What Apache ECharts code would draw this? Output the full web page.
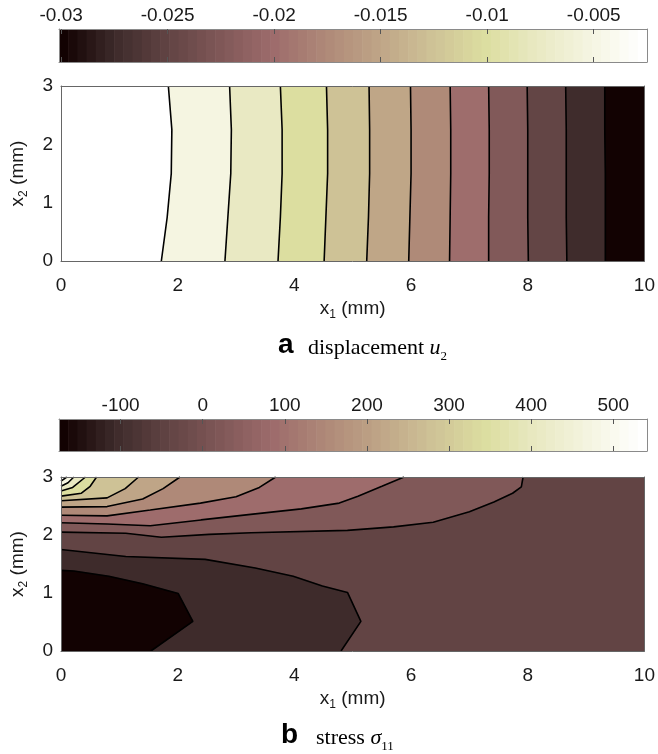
<!DOCTYPE html>
<html>
<head>
<meta charset="utf-8">
<script src="https://cdn.jsdelivr.net/npm/echarts@6/dist/echarts.min.js"></script>
<style>html,body{margin:0;padding:0;background:#fff}#c{width:658px;height:754px}</style>
</head>
<body>
<div id="c"></div>
<script>
// ================= DATA =================
const xTicks = [0, 2, 4, 6, 8, 10];
const yTicks = [0, 1, 2, 3];
const X_RANGE = [0, 10];
const Y_RANGE = [0, 3];

// (a) displacement u2
const aRange = [-0.0301, -0.0025];
const aTicks = [-0.03, -0.025, -0.02, -0.015, -0.01, -0.005];
const aTickLabels = ['-0.03', '-0.025', '-0.02', '-0.015', '-0.01', '-0.005'];
const aLevels = [-0.0275, -0.025, -0.0225, -0.02, -0.0175, -0.015, -0.0125, -0.01, -0.0075, -0.005, -0.0025];
// contour lines [x1, x2], one per level (lowest level first)
const aLines = [
  [[9.33,0],[9.33,0.75],[9.33,1.5],[9.32,2.25],[9.32,3]],
  [[8.67,0],[8.66,0.75],[8.66,1.5],[8.66,2.25],[8.65,3]],
  [[8.01,0],[8.00,0.75],[8.00,1.5],[8.00,2.25],[7.99,3]],
  [[7.33,0],[7.33,0.75],[7.34,1.5],[7.34,2.25],[7.33,3]],
  [[6.66,0],[6.67,0.75],[6.68,1.5],[6.68,2.25],[6.67,3]],
  [[5.96,0],[5.98,0.75],[6.00,1.5],[6.00,2.25],[5.99,3]],
  [[5.24,0],[5.27,0.75],[5.29,1.5],[5.29,2.25],[5.28,3]],
  [[4.51,0],[4.54,0.75],[4.57,1.5],[4.57,2.25],[4.55,3]],
  [[3.72,0],[3.76,0.75],[3.79,1.5],[3.79,2.25],[3.76,3]],
  [[2.81,0],[2.86,0.75],[2.91,1.5],[2.92,2.25],[2.89,3]],
  [[1.72,0],[1.82,0.75],[1.89,1.5],[1.90,2.25],[1.84,3]]
];

// (b) stress sigma11
const bRange = [-175, 541];
const bTicks = [-100, 0, 100, 200, 300, 400, 500];
const bTickLabels = ['-100', '0', '100', '200', '300', '400', '500'];
const bLevels = [-110, -45, 20, 85, 150, 215, 280, 345, 410, 475, 540];
const bLines = [
  [[0,1.39],[0.22,1.38],[0.82,1.29],[1.40,1.16],[2.01,0.99],[2.26,0.51],[1.54,0]],
  [[0,1.75],[1.11,1.63],[2.47,1.58],[3.33,1.43],[3.98,1.29],[4.48,1.12],[4.91,1.01],[5.14,0.51],[4.80,0]],
  [[0,2.05],[1.11,2.03],[1.72,1.96],[2.54,2.01],[3.26,2.04],[4.91,2.08],[5.70,2.14],[6.38,2.22],[7.00,2.40],[7.42,2.57],[7.74,2.72],[7.89,2.83],[7.92,3]],
  [[0,2.21],[0.79,2.19],[1.53,2.16],[2.40,2.26],[3.29,2.36],[4.12,2.45],[4.77,2.55],[5.09,2.67],[5.50,2.84],[5.88,3]],
  [[0,2.34],[0.79,2.33],[1.53,2.43],[2.39,2.55],[3.00,2.66],[3.40,2.82],[3.68,3]],
  [[0,2.48],[0.79,2.49],[1.40,2.62],[1.75,2.80],[2.04,3]],
  [[0,2.59],[0.79,2.64],[1.10,2.80],[1.33,3]],
  [[0,2.67],[0.35,2.72],[0.50,2.84],[0.61,3]],
  [[0,2.76],[0.20,2.82],[0.42,3]],
  [[0,2.84],[0.12,2.90],[0.22,3]],
  [[0,2.93],[0.10,3]]
];

// ================= STYLE =================
const FONT = "'Liberation Sans', Arial, Helvetica, sans-serif";
const SERIF = "'Liberation Serif', 'Times New Roman', serif";
const FS = 19;
const cmapStops = [[18,2,2],[62,43,43],[98,68,68],[128,88,88],[158,108,108],[175,137,120],[191,165,135],[206,194,150],[220,222,160],[233,233,195],[245,245,225],[255,255,255]];
function cmap(t) {
  t = Math.max(0, Math.min(1, t));
  const n = cmapStops.length - 1;
  const f = t * n;
  const i = Math.min(n - 1, Math.floor(f));
  const u = f - i;
  const a = cmapStops[i], b = cmapStops[i + 1];
  const c = a.map((v, j) => Math.round(v + (b[j] - v) * u));
  return 'rgb(' + c[0] + ',' + c[1] + ',' + c[2] + ')';
}

// ---- region building (painter's algorithm) ----
function perim(p) {
  const W = X_RANGE[1] - X_RANGE[0], H = Y_RANGE[1] - Y_RANGE[0], e = 1e-6;
  const x = p[0], y = p[1];
  if (Math.abs(y - Y_RANGE[1]) < e) return x - X_RANGE[0];
  if (Math.abs(x - X_RANGE[1]) < e) return W + (Y_RANGE[1] - y);
  if (Math.abs(y - Y_RANGE[0]) < e) return W + H + (X_RANGE[1] - x);
  return 2 * W + H + (y - Y_RANGE[0]);
}
function closeRegion(line) {
  const W = X_RANGE[1] - X_RANGE[0], H = Y_RANGE[1] - Y_RANGE[0], P = 2 * (W + H);
  const corners = [
    [W, [X_RANGE[1], Y_RANGE[1]]],
    [W + H, [X_RANGE[1], Y_RANGE[0]]],
    [2 * W + H, [X_RANGE[0], Y_RANGE[0]]],
    [P, [X_RANGE[0], Y_RANGE[1]]]
  ];
  const sEnd = perim(line[line.length - 1]), sStart = perim(line[0]);
  let d = sStart - sEnd; if (d <= 0) d += P;
  const pts = line.slice();
  corners.map(([s, pt]) => [(((s - sEnd) % P) + P) % P, pt])
    .filter(([ds]) => ds > 1e-9 && ds < d - 1e-9)
    .sort((a, b) => a[0] - b[0])
    .forEach(c => pts.push(c[1]));
  return pts;
}
function buildRegions(lines, levels, vmin) {
  const rect = [[X_RANGE[0], Y_RANGE[0]], [X_RANGE[1], Y_RANGE[0]], [X_RANGE[1], Y_RANGE[1]], [X_RANGE[0], Y_RANGE[1]]];
  const regs = [{ pts: rect, value: levels[levels.length - 1] }];
  for (let k = lines.length - 1; k >= 0; k--) {
    regs.push({ pts: closeRegion(lines[k]), value: k > 0 ? levels[k - 1] : vmin });
  }
  return regs;
}
const regionsA = buildRegions(aLines, aLevels, aRange[0]);
const regionsB = buildRegions(bLines, bLevels, bRange[0]);

function fillSeries(regs, range, axisIdx) {
  return {
    type: 'custom', xAxisIndex: axisIdx, yAxisIndex: axisIdx, z: 1, silent: true, clip: true,
    data: regs.map(r => r.pts[0]),
    renderItem: function (params, api) {
      const r = regs[params.dataIndex];
      const col = cmap((r.value - range[0]) / (range[1] - range[0]));
      return { type: 'polygon', shape: { points: r.pts.map(p => api.coord(p)) }, style: { fill: col, stroke: col, lineWidth: 0.3 } };
    }
  };
}
function lineSeries(lines, axisIdx) {
  return lines.map(l => ({
    type: 'line', xAxisIndex: axisIdx, yAxisIndex: axisIdx, data: l, symbol: 'none', silent: true, z: 3,
    lineStyle: { color: '#000', width: 1.6 }, clip: true
  }));
}
const NCELL = 64;
function colorbarSeries(range, axisIdx) {
  const step = (range[1] - range[0]) / NCELL;
  const cells = [];
  for (let i = 0; i < NCELL; i++) cells.push([range[0] + (i + 0.5) * step, 0.5]);
  return {
    type: 'custom', xAxisIndex: axisIdx, yAxisIndex: axisIdx, z: 1, silent: true,
    data: cells,
    renderItem: function (params, api) {
      const i = params.dataIndex;
      const p0 = api.coord([range[0] + i * step, 0]);
      const p1 = api.coord([range[0] + (i + 1) * step, 1]);
      return { type: 'rect', shape: { x: p0[0], y: p1[1], width: p1[0] - p0[0] + 0.6, height: p0[1] - p1[1] }, style: { fill: cmap(i / (NCELL - 1)) } };
    }
  };
}

function labelFmt(ticks, labels) {
  return v => { let bi = 0; ticks.forEach((t, i) => { if (Math.abs(t - v) < Math.abs(ticks[bi] - v)) bi = i; }); return labels[bi]; };
}
const CB_LINE = '#8a8a8a';
const FR_LINE = '#666';
function cbTop(gi, range, ticks, labels) {
  return { type: 'value', gridIndex: gi, position: 'top', min: range[0], max: range[1], z: 10,
    axisLine: { show: true, onZero: false, lineStyle: { color: CB_LINE, width: 1 } },
    axisTick: { show: true, inside: true, length: 5, customValues: ticks, lineStyle: { color: '#555', width: 1 } },
    axisLabel: { show: true, customValues: ticks, formatter: labelFmt(ticks, labels), margin: 4, fontSize: FS, fontFamily: FONT, color: '#1a1a1a' },
    splitLine: { show: false } };
}
function cbBottom(gi, range, ticks) {
  return { type: 'value', gridIndex: gi, position: 'bottom', min: range[0], max: range[1], z: 10,
    axisLine: { show: true, onZero: false, lineStyle: { color: CB_LINE, width: 1 } },
    axisTick: { show: true, inside: true, length: 5, customValues: ticks, lineStyle: { color: '#555', width: 1 } },
    axisLabel: { show: false }, splitLine: { show: false } };
}
function cbY(gi, pos) {
  return { type: 'value', gridIndex: gi, position: pos, min: 0, max: 1, z: 10,
    axisLine: { show: true, onZero: false, lineStyle: { color: CB_LINE, width: 1 } },
    axisTick: { show: false }, axisLabel: { show: false }, splitLine: { show: false } };
}
const nameRich = {
  n: { fontSize: FS, fontFamily: FONT, color: '#1a1a1a', lineHeight: 25 },
  s: { fontSize: 12, fontFamily: FONT, color: '#1a1a1a', lineHeight: 12, verticalAlign: 'bottom' }
};
function plotX(gi, pos, withLabels) {
  const ax = { type: 'value', gridIndex: gi, position: pos, min: X_RANGE[0], max: X_RANGE[1], interval: xTicks[1] - xTicks[0], z: 10,
    axisLine: { show: true, onZero: false, lineStyle: { color: FR_LINE, width: 1 } },
    axisTick: { show: false }, splitLine: { show: false },
    axisLabel: { show: withLabels, margin: 15, fontSize: FS, fontFamily: FONT, color: '#1a1a1a' } };
  if (withLabels) {
    ax.name = '{n|x}{s|1}{n| (mm)}'; ax.nameLocation = 'middle'; ax.nameGap = 35;
    ax.nameTextStyle = { rich: nameRich };
  }
  return ax;
}
function plotY(gi, pos, withLabels) {
  const ax = { type: 'value', gridIndex: gi, position: pos, min: Y_RANGE[0], max: Y_RANGE[1], interval: yTicks[1] - yTicks[0], z: 10,
    axisLine: { show: true, onZero: false, lineStyle: { color: FR_LINE, width: 1 } },
    axisTick: { show: false }, splitLine: { show: false },
    axisLabel: { show: withLabels, margin: 8, fontSize: FS, fontFamily: FONT, color: '#1a1a1a' } };
  if (withLabels) {
    ax.name = '{n|x}{s|2}{n| (mm)}'; ax.nameLocation = 'middle'; ax.nameGap = 31; ax.nameRotate = 90;
    ax.nameTextStyle = { rich: nameRich };
  }
  return ax;
}

const chart = echarts.init(document.getElementById('c'), null, { renderer: 'canvas', width: 658, height: 754 });
const capRich = {
  t: { fontFamily: SERIF, fontSize: 22, lineHeight: 30, fill: '#000', color: '#000' },
  i: { fontFamily: SERIF, fontSize: 22, lineHeight: 30, fontStyle: 'italic', fill: '#000', color: '#000' },
  s: { fontFamily: SERIF, fontSize: 13, lineHeight: 13, verticalAlign: 'bottom', fill: '#000', color: '#000' }
};
const option = {
  animation: false,
  backgroundColor: '#fff',
  grid: [
    { left: 59, top: 29, width: 588, height: 33 },
    { left: 60, top: 86, width: 587, height: 175 },
    { left: 59, top: 419, width: 588, height: 32 },
    { left: 60, top: 477, width: 587, height: 174 }
  ],
  xAxis: [
    cbTop(0, aRange, aTicks, aTickLabels), cbBottom(0, aRange, aTicks),
    plotX(1, 'bottom', true), plotX(1, 'top', false),
    cbTop(2, bRange, bTicks, bTickLabels), cbBottom(2, bRange, bTicks),
    plotX(3, 'bottom', true), plotX(3, 'top', false)
  ],
  yAxis: [
    cbY(0, 'left'), cbY(0, 'right'),
    plotY(1, 'left', true), plotY(1, 'right', false),
    cbY(2, 'left'), cbY(2, 'right'),
    plotY(3, 'left', true), plotY(3, 'right', false)
  ],
  series: [
    colorbarSeries(aRange, 0),
    fillSeries(regionsA, aRange, 2),
    ...lineSeries(aLines, 2),
    colorbarSeries(bRange, 4),
    fillSeries(regionsB, bRange, 6),
    ...lineSeries(bLines, 6)
  ],
  graphic: [
    { type: 'text', x: 278, y: 345, style: { text: 'a', font: 'bold 28px ' + FONT, fill: '#000', align: 'left', verticalAlign: 'middle' } },
    { type: 'text', x: 308, y: 333, style: { text: '{t|displacement }{i|u}{s|2}', rich: capRich, align: 'left', verticalAlign: 'top' } },
    { type: 'text', x: 281, y: 735, style: { text: 'b', font: 'bold 28px ' + FONT, fill: '#000', align: 'left', verticalAlign: 'middle' } },
    { type: 'text', x: 316, y: 723, style: { text: '{t|stress }{i|σ}{s|11}', rich: capRich, align: 'left', verticalAlign: 'top' } }
  ]
};
chart.setOption(option);
</script>
</body>
</html>
